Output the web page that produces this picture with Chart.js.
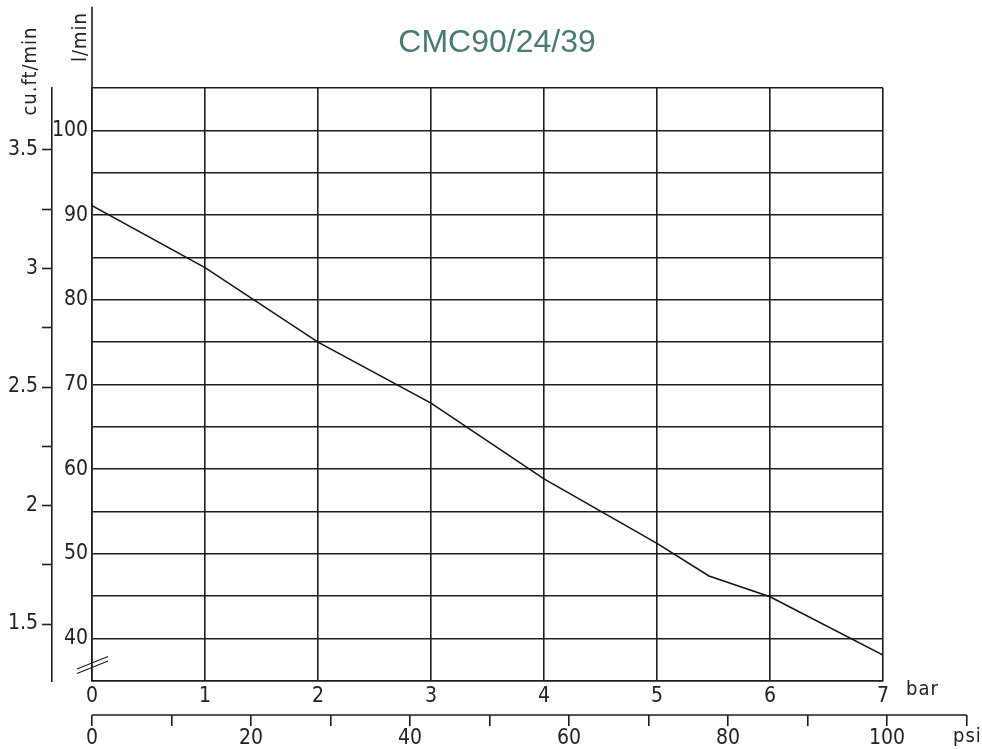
<!DOCTYPE html>
<html>
<head>
<meta charset="utf-8">
<script src="https://cdn.jsdelivr.net/npm/chart.js@4/dist/chart.umd.min.js"></script>
<style>
  html, body { margin: 0; padding: 0; background: #fff; }
  #wrap { width: 982px; height: 749px; position: relative; }
</style>
</head>
<body>
<div id="wrap"><canvas id="c" width="982" height="749"></canvas></div>
<script>
// ---- data ----
const pressureBar = [0, 1, 2, 3, 4, 5, 5.46, 6, 7];
const flowLmin    = [91.1, 83.8, 75.0, 67.8, 58.85, 51.25, 47.4, 44.95, 38.05];

// ---- tick labels ----
const lminTicks  = [35, 40, 45, 50, 55, 60, 65, 70, 75, 80, 85, 90, 95, 100, 105];
const lminLabels = [40, 50, 60, 70, 80, 90, 100];
const cuftTicks  = [1.5, 1.75, 2, 2.25, 2.5, 2.75, 3, 3.25, 3.5];
const cuftLabels = [1.5, 2, 2.5, 3, 3.5];
const barTicks   = [0, 1, 2, 3, 4, 5, 6, 7];
const psiTicks   = [0, 10, 20, 30, 40, 50, 60, 70, 80, 90, 100, 110];
const psiLabels  = [0, 20, 40, 60, 80, 100];

const titleText = 'CMC90/24/39';
const lminTitle = 'l/min';
const cuftTitle = 'cu.ft/min';
const barTitle  = 'bar';
const psiTitle  = 'psi';

const INK = '#222';
const GRID = '#1e1e1e';
const LW = 1.6;
const FONT_FAMILY = "'Liberation Sans Narrow', 'DejaVu Sans Condensed', sans-serif";
const tickFont = { family: FONT_FAMILY, size: 21 };

const points = pressureBar.map((x, i) => ({ x: x, y: flowLmin[i] }));

const decorPlugin = {
  id: 'decor',
  afterDraw(chart) {
    const ctx = chart.ctx;
    const y = chart.scales.y;
    const x2 = chart.scales.x2;
    const ca = chart.chartArea;
    ctx.save();
    // extend the l/min axis line upward
    ctx.strokeStyle = GRID;
    ctx.lineWidth = LW;
    ctx.beginPath();
    ctx.moveTo(ca.left, ca.top);
    ctx.lineTo(ca.left, y.getPixelForValue(114.6));
    ctx.stroke();
    // psi axis line
    ctx.beginPath();
    ctx.moveTo(x2.getPixelForValue(0), x2.top);
    ctx.lineTo(x2.getPixelForValue(110), x2.top);
    ctx.stroke();
    // break mark
    ctx.lineWidth = 1.3;
    ctx.beginPath();
    ctx.moveTo(ca.left - 15, ca.bottom - 12);
    ctx.lineTo(ca.left + 16, ca.bottom - 24.5);
    ctx.moveTo(ca.left - 15, ca.bottom - 7.5);
    ctx.lineTo(ca.left + 16, ca.bottom - 20);
    ctx.stroke();

    // title
    ctx.fillStyle = '#4a7a74';
    ctx.font = "32px 'Liberation Sans', Arial, sans-serif";
    ctx.textAlign = 'center';
    ctx.textBaseline = 'alphabetic';
    ctx.fillText(titleText, 497, 52);

    // axis unit labels
    ctx.fillStyle = INK;
    ctx.font = "20px 'DejaVu Sans Condensed', sans-serif";
    try { ctx.letterSpacing = '1px'; } catch (e) {}
    ctx.textBaseline = 'middle';
    ctx.save();
    ctx.translate(81, 37);
    ctx.rotate(-Math.PI / 2);
    ctx.textAlign = 'center';
    ctx.fillText(lminTitle, 0, 0);
    ctx.restore();
    ctx.save();
    ctx.translate(31, 71);
    ctx.rotate(-Math.PI / 2);
    ctx.textAlign = 'center';
    ctx.fillText(cuftTitle, 0, 0);
    ctx.restore();
    ctx.textAlign = 'left';
    ctx.fillText(barTitle, 906, 690);
    ctx.fillText(psiTitle, 953, 737);
    ctx.restore();
  }
};

new Chart(document.getElementById('c'), {
  type: 'line',
  data: {
    datasets: [{
      data: points,
      borderColor: '#111',
      borderWidth: 1.5,
      pointRadius: 0,
      tension: 0,
      fill: false
    }]
  },
  options: {
    responsive: false,
    animation: false,
    events: [],
    layout: { padding: { top: 88, left: 0, right: 0, bottom: 0 } },
    plugins: { legend: { display: false }, tooltip: { enabled: false }, title: { display: false } },
    scales: {
      x: {
        type: 'linear',
        position: 'bottom',
        weight: 0,
        min: 0, max: 7,
        afterBuildTicks: a => { a.ticks = barTicks.map(v => ({ value: v })); },
        afterFit: a => { a.height = 34; },
        grid: { color: GRID, lineWidth: LW, drawTicks: false },
        border: { display: true, color: GRID, width: LW },
        ticks: { color: INK, font: tickFont, padding: 3, maxRotation: 0, autoSkip: false,
                 callback: v => String(v) }
      },
      x2: {
        type: 'linear',
        position: 'bottom',
        weight: 1,
        fullSize: true,
        min: -92 / 7.95, max: 890 / 7.95,
        afterBuildTicks: a => { a.ticks = psiTicks.map(v => ({ value: v })); },
        afterFit: a => { a.height = 34; },
        grid: { drawOnChartArea: false, drawTicks: true, tickLength: 11, tickColor: GRID, tickWidth: LW, color: GRID, lineWidth: LW },
        border: { display: false },
        ticks: { color: INK, font: tickFont, padding: 0, maxRotation: 0, autoSkip: false,
                 callback: v => psiLabels.includes(v) ? String(v) : '' }
      },
      y: {
        type: 'linear',
        position: 'left',
        weight: 0,
        min: 35, max: 105,
        afterBuildTicks: a => { a.ticks = lminTicks.map(v => ({ value: v })); },
        afterFit: a => { a.width = 40; },
        grid: { color: GRID, lineWidth: LW, drawTicks: false },
        border: { display: true, color: GRID, width: LW },
        ticks: { color: INK, font: tickFont, padding: 4, autoSkip: false,
                 callback: v => lminLabels.includes(v) ? String(v) : '' }
      },
      y2: {
        type: 'linear',
        position: 'left',
        weight: 1,
        min: 1.5 - 57 / 237, max: 3.5 + 62 / 237,
        afterBuildTicks: a => { a.ticks = cuftTicks.map(v => ({ value: v })); },
        afterFit: a => { a.width = 52; },
        grid: { drawOnChartArea: false, drawTicks: true, tickLength: 10, tickColor: GRID, tickWidth: LW, color: GRID },
        border: { display: true, color: GRID, width: LW },
        ticks: { color: INK, font: tickFont, padding: 4, autoSkip: false,
                 callback: v => cuftLabels.includes(v) ? String(v) : '' }
      },
      yr: {
        type: 'linear',
        position: 'right',
        min: 0, max: 1,
        afterFit: a => { a.width = 99; },
        grid: { display: false, drawTicks: false },
        border: { display: false },
        ticks: { display: false }
      }
    }
  },
  plugins: [decorPlugin]
});
</script>
</body>
</html>
